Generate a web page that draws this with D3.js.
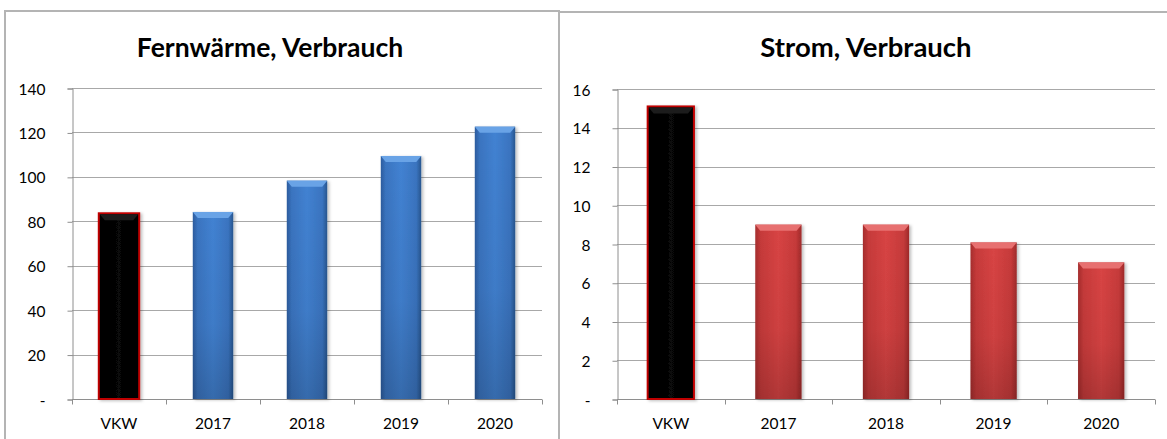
<!DOCTYPE html>
<html>
<head>
<meta charset="utf-8">
<script src="https://cdn.jsdelivr.net/npm/d3@7"></script>
<style>
  html, body { margin: 0; padding: 0; background: #fff; }
  svg { display: block; }
  text { font-family: Lato, "Open Sans", sans-serif; fill: #000; }
</style>
</head>
<body>
<svg id="chart" width="1167" height="439"></svg>
<script>
// ---------- data ----------
const categories = ["VKW", "2017", "2018", "2019", "2020"];
const fernwaermeTitle = "Fernwärme, Verbrauch";
const fernwaermeValues = [83.6, 84.2, 98.3, 109.4, 122.6];
const fernwaermeTicks = [0, 20, 40, 60, 80, 100, 120, 140];
const stromTitle = "Strom, Verbrauch";
const stromValues = [15.1, 9.0, 9.0, 8.08, 7.05];
const stromTicks = [0, 2, 4, 6, 8, 10, 12, 14, 16];
const zeroLabel = "-";

const svg = d3.select("#chart");
const defs = svg.append("defs");

function hGrad(id, stops) {
  const g = defs.append("linearGradient").attr("id", id)
    .attr("x1", 0).attr("y1", 0).attr("x2", 1).attr("y2", 0);
  stops.forEach(s => g.append("stop").attr("offset", s[0]).attr("stop-color", s[1]));
}
function vGrad(id, stops) {
  const g = defs.append("linearGradient").attr("id", id)
    .attr("x1", 0).attr("y1", 0).attr("x2", 0).attr("y2", 1);
  stops.forEach(s => g.append("stop").attr("offset", s[0]).attr("stop-color", s[1]).attr("stop-opacity", s[2]));
}
hGrad("blueH", [[0, "#2b5c9e"], [0.12, "#3a74c0"], [0.5, "#4282d2"], [0.88, "#3a74c0"], [1, "#28568f"]]);
hGrad("redH", [[0, "#a52d2d"], [0.12, "#c63a3a"], [0.5, "#d84444"], [0.88, "#c63a3a"], [1, "#9e2a2a"]]);
hGrad("blackH", [[0, "#000"], [0.5, "#070707"], [1, "#000"]]);
vGrad("shade", [[0, "#000", 0], [0.6, "#000", 0.05], [1, "#000", 0.18]]);
const filt = defs.append("filter").attr("id", "shadow").attr("x", "-20%").attr("y", "-5%").attr("width", "150%").attr("height", "115%");
filt.append("feDropShadow").attr("dx", 2).attr("dy", 1).attr("stdDeviation", 1.5).attr("flood-color", "#000").attr("flood-opacity", 0.25);

// ---------- panel borders ----------
const borderColor = "#b4b4b4";
svg.append("path").attr("d", "M5,439 V11 H559 V439").attr("fill", "none").attr("stroke", borderColor).attr("stroke-width", 2);
svg.append("path").attr("d", "M559,12 H1167").attr("fill", "none").attr("stroke", borderColor).attr("stroke-width", 2);

function drawChart(cfg) {
  const g = svg.append("g");
  const x = d3.scaleBand().domain(categories).range([cfg.x0, cfg.x1]).padding(0);
  const y = d3.scaleLinear().domain([0, cfg.max]).range([cfg.yBase, cfg.yTop]);

  // title
  g.append("text").attr("x", cfg.titleX).attr("y", 57).attr("text-anchor", "middle")
    .attr("font-size", cfg.titleSize).attr("font-weight", "bold").text(cfg.title);

  // gridlines
  g.append("g").selectAll("line").data(cfg.ticks.filter(t => t > 0)).join("line")
    .attr("x1", cfg.x0).attr("x2", cfg.x1)
    .attr("y1", d => Math.round(y(d)) + 0.5).attr("y2", d => Math.round(y(d)) + 0.5)
    .attr("stroke", "#a8a8a8").attr("stroke-width", 1);

  // y axis
  const yAxis = d3.axisLeft(y).tickValues(cfg.ticks).tickSize(5).tickPadding(22)
    .tickFormat(d => d === 0 ? zeroLabel : d3.format("d")(d));
  const ya = g.append("g").attr("transform", `translate(${cfg.x0 + 0.5},0.5)`).call(yAxis);
  ya.select(".domain").attr("stroke", "#8e8e8e");
  ya.selectAll(".tick line").attr("stroke", "#8e8e8e");
  ya.selectAll(".tick text").attr("font-family", "Lato, sans-serif").attr("font-size", 15.5).attr("fill", "#000")
    .attr("dy", "0.36em");

  // x axis (ticks at band boundaries)
  const xa = g.append("g").attr("transform", `translate(0,${cfg.yBase + 0.5})`);
  xa.append("line").attr("x1", cfg.x0).attr("x2", cfg.x1).attr("stroke", "#8e8e8e");
  const bounds = categories.map(c => x(c)).concat([cfg.x1]);
  xa.selectAll("line.b").data(bounds).join("line").attr("class", "b")
    .attr("x1", d => Math.round(d) + 0.5).attr("x2", d => Math.round(d) + 0.5)
    .attr("y1", 0).attr("y2", 5).attr("stroke", "#8e8e8e");
  xa.selectAll("text").data(categories).join("text")
    .attr("x", d => x(d) + x.bandwidth() / 2).attr("y", 29).attr("text-anchor", "middle")
    .attr("font-size", 15.5).text(d => d);

  // bars
  const bw = x.bandwidth() * 0.43;
  const bars = g.append("g").selectAll("g").data(cfg.values.map((v, i) => ({ c: categories[i], v, i }))).join("g");
  bars.each(function (d) {
    const b = d3.select(this);
    const bx = x(d.c) + (x.bandwidth() - bw) / 2;
    const by = y(d.v);
    const bh = cfg.yBase - by;
    const isRef = d.i === 0;
    if (isRef) {
      b.append("rect").attr("x", bx).attr("y", by).attr("width", bw).attr("height", bh)
        .attr("fill", "url(#blackH)").attr("stroke", "#c00000").attr("stroke-width", 2)
        .attr("filter", "url(#shadow)");
      b.append("path").attr("d", `M${bx + 1},${by + 1} H${bx + bw - 1} L${bx + bw - 6},${by + 7} H${bx + 6} Z`)
        .attr("fill", "#1c1c1c");
    } else {
      b.append("rect").attr("x", bx).attr("y", by).attr("width", bw).attr("height", bh)
        .attr("fill", `url(#${cfg.grad})`).attr("filter", "url(#shadow)");
      b.append("rect").attr("x", bx).attr("y", by).attr("width", bw).attr("height", bh)
        .attr("fill", "url(#shade)");
      b.append("path").attr("d", `M${bx},${by} H${bx + bw} L${bx + bw - 5},${by + 6} H${bx + 5} Z`)
        .attr("fill", cfg.bevel);
    }
  });
}

drawChart({
  title: fernwaermeTitle, titleX: 270, titleSize: 26.5,
  values: fernwaermeValues, ticks: fernwaermeTicks, max: 140,
  x0: 72, x1: 542, yTop: 88, yBase: 399, grad: "blueH", bevel: "#69a3e6"
});
drawChart({
  title: stromTitle, titleX: 866, titleSize: 27.5,
  values: stromValues, ticks: stromTicks, max: 16,
  x0: 617, x1: 1155, yTop: 89, yBase: 399, grad: "redH", bevel: "#e77070"
});
</script>
</body>
</html>
